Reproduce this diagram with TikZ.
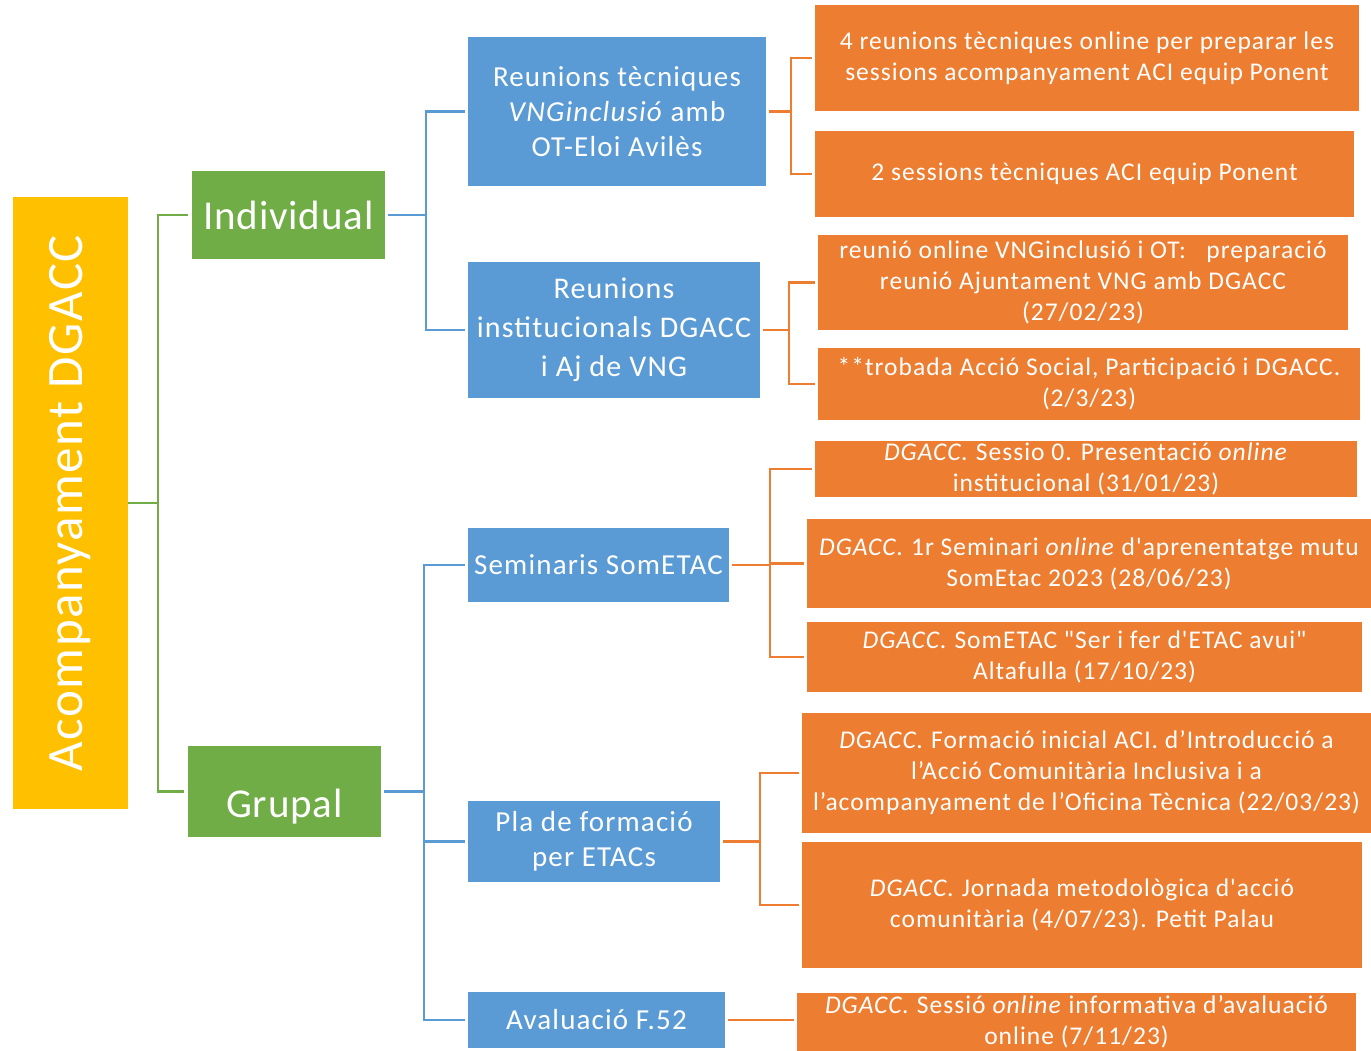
\documentclass[tikz,border=0pt]{standalone}
\usepackage{fontspec}
\setmainfont{Carlito}[Ligatures=TeXOff]
\newfontfamily\orgfont{Carlito}[Ligatures=TeXOff, LetterSpace=4]
\newfontfamily\blufont{Carlito}[Ligatures=TeXOff, LetterSpace=4]
\newfontfamily\grnfont{Carlito}[Ligatures=TeXOff, LetterSpace=2]
\newfontfamily\rootfont{Carlito}[Ligatures=TeXOff, LetterSpace=3]
\definecolor{cyel}{HTML}{FFC000}
\definecolor{cgrn}{HTML}{70AD47}
\definecolor{cblu}{HTML}{5B9BD5}
\definecolor{corg}{HTML}{ED7D31}
\begin{document}
\begin{tikzpicture}[x=1pt,y=-1pt,
  box/.style={rectangle, inner sep=0pt, outer sep=0pt, text=white, align=center},
  rootbox/.style={box, fill=cyel},
  grnbox/.style={box, fill=cgrn, font=\grnfont\fontsize{41}{48}\selectfont},
  blubox/.style={box, fill=cblu, font=\blufont\fontsize{29}{35}\selectfont},
  orgbox/.style={box, fill=corg, font=\orgfont\fontsize{25.5}{31}\selectfont},
  glink/.style={draw=cgrn, line width=2.8pt},
  blink/.style={draw=cblu, line width=2.8pt},
  olink/.style={draw=corg, line width=2.8pt}]
\useasboundingbox (0,0) rectangle (1371,1051);
% root
\node[rootbox, minimum width=115pt, minimum height=612pt] (root) at (70.5,503)
  {\rotatebox{90}{\rootfont\fontsize{51}{60}\selectfont Acompanyament DGACC}};
% level 1
\node[grnbox, minimum width=193pt, minimum height=88pt] (ind) at (288.5,215) {Individual};
\node[grnbox, minimum width=193pt, minimum height=91pt] (grp) at (284.5,791.5) {\raisebox{-26pt}[0pt][0pt]{Grupal}};
% level 2
\node[blubox, minimum width=298pt, minimum height=149pt] (b1) at (617,111.5)
  {Reunions tècniques\\ \textit{VNGinclusió} amb\\ OT-Eloi Avilès};
\node[blubox, font=\blufont\fontsize{30}{39}\selectfont, minimum width=292pt, minimum height=135pt] (b2) at (614,330)
  {Reunions\\ institucionals DGACC\\ i Aj de VNG};
\node[blubox, minimum width=261pt, minimum height=74pt] (b3) at (598.5,565) {Seminaris SomETAC};
\node[blubox, minimum width=252pt, minimum height=81pt] (b4) at (594,841.5) {Pla de formació\\ per ETACs};
\node[blubox, minimum width=257pt, minimum height=56pt] (b5) at (596.5,1020) {Avaluació F.52};
% level 3
\node[orgbox, minimum width=544pt, minimum height=106pt] (o1) at (1087,58)
  {4 reunions tècniques online per preparar les\\ sessions acompanyament ACI equip Ponent};
\node[orgbox, minimum width=539pt, minimum height=86pt] (o2) at (1084.5,174)
  {2 sessions tècniques ACI equip Ponent};
\node[orgbox, minimum width=530pt, minimum height=95pt] (o3) at (1083,282.5)
  {reunió online VNGinclusió i OT:\ \ \ preparació\\ reunió Ajuntament VNG amb DGACC\\ (27/02/23)};
\node[orgbox, minimum width=542pt, minimum height=72pt] (o4) at (1089,384)
  {**trobada Acció Social, Participació i DGACC.\\ (2/3/23)};
\node[orgbox, minimum width=542pt, minimum height=56pt] (o5) at (1086,469)
  {\textit{DGACC.} Sessio 0. Presentació \textit{online}\\ institucional (31/01/23)};
\node[orgbox, minimum width=564pt, minimum height=89pt] (o6) at (1089,563.5)
  {\textit{DGACC.} 1r Seminari \textit{online} d'aprenentatge mutu\\ SomEtac 2023 (28/06/23)};
\node[orgbox, minimum width=555pt, minimum height=70pt] (o7) at (1084.5,657)
  {\textit{DGACC.} SomETAC "Ser i fer d'ETAC avui"\\ Altafulla (17/10/23)};
\node[orgbox, minimum width=569pt, minimum height=120pt] (o8) at (1086.5,773)
  {\textit{DGACC.} Formació inicial ACI. d’Introducció a\\ l’Acció Comunitària Inclusiva i a\\ l’acompanyament de l’Oficina Tècnica (22/03/23)};
\node[orgbox, minimum width=560pt, minimum height=126pt] (o9) at (1082,905)
  {\textit{DGACC.} Jornada metodològica d'acció\\ comunitària (4/07/23). Petit Palau};
\node[orgbox, minimum width=559pt, minimum height=58pt] (o10) at (1076.5,1022)
  {\textit{DGACC.} Sessió \textit{online} informativa d’avaluació\\ online (7/11/23)};
% connectors
\draw[glink] (root.east) -- ++(30,0) coordinate (gj) (gj) |- ([xshift=-4pt]ind.west);
\draw[glink] (gj) |- ([xshift=-4pt]grp.west);
\draw[blink] ([xshift=3pt]ind.east) -- ++(38,0) coordinate (bj1) (bj1) |- ([xshift=-3pt]b1.west);
\draw[blink] (bj1) |- ([xshift=-3pt]b2.west);
\draw[blink] ([xshift=3pt]grp.east) -- ++(40,0) coordinate (bj2) (bj2) |- ([xshift=-3pt]b3.west);
\draw[blink] (bj2) |- ([xshift=-3pt]b4.west);
\draw[blink] (bj2) |- ([xshift=-3pt]b5.west);
\draw[olink] ([xshift=3pt]b1.east) -- ++(22,0) coordinate (oj1) (oj1) |- ([xshift=-3pt]o1.west);
\draw[olink] (oj1) |- ([xshift=-3pt]o2.west);
\draw[olink] ([xshift=3pt]b2.east) -- ++(26,0) coordinate (oj2) (oj2) |- ([xshift=-3pt]o3.west);
\draw[olink] (oj2) |- ([xshift=-3pt]o4.west);
\draw[olink] ([xshift=3pt]b3.east) -- ++(38,0) coordinate (oj3) (oj3) |- ([xshift=-3pt]o5.west);
\draw[olink] (oj3) |- ([xshift=-3pt]o6.west);
\draw[olink] (oj3) |- ([xshift=-3pt]o7.west);
\draw[olink] ([xshift=3pt]b4.east) -- ++(37,0) coordinate (oj4) (oj4) |- ([xshift=-3pt]o8.west);
\draw[olink] (oj4) |- ([xshift=-3pt]o9.west);
\draw[olink] ([xshift=3pt]b5.east) -- ([xshift=-3pt]b5.east -| o10.west);
\end{tikzpicture}
\end{document}
